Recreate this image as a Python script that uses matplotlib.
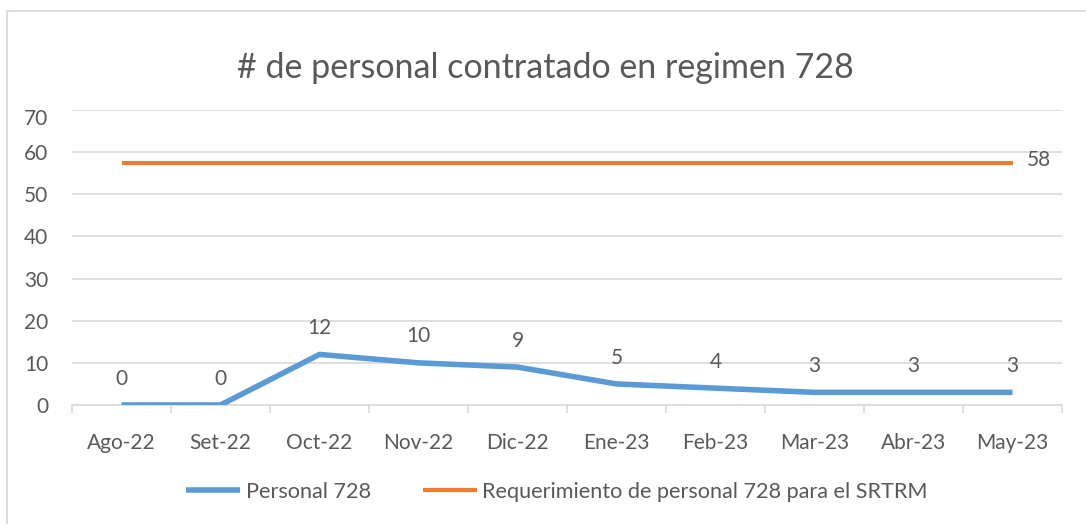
import matplotlib
matplotlib.use("Agg")
import matplotlib.pyplot as plt
from matplotlib.lines import Line2D
from matplotlib.ticker import FixedLocator
from matplotlib.transforms import ScaledTranslation

months = ["Ago-22", "Set-22", "Oct-22", "Nov-22", "Dic-22", "Ene-23", "Feb-23", "Mar-23", "Abr-23", "May-23"]
personal_728 = [0, 0, 12, 10, 9, 5, 4, 3, 3, 3]
requerimiento = [57.5, 57.5, 57.5, 57.5, 57.5, 57.5, 57.5, 57.5, 57.5, 57.5]
y_ticks = [0, 10, 20, 30, 40, 50, 60, 70]
title = "# de personal contratado en regimen 728"
series_names = ["Personal 728", "Requerimiento de personal 728 para el SRTRM"]

plt.rcParams['font.family'] = ['Lato', 'DejaVu Sans']
TXT = "#595959"
BLUE = "#5B9BD5"
ORANGE = "#ED7D31"
GRID = "#D9D9D9"
FS = 15

W, H = 1086, 524
fig = plt.figure(figsize=(W / 100, H / 100), dpi=100)
ax = fig.add_axes([72 / W, 1 - 405 / H, (1062 - 72) / W, (405 - 110) / H])

x = list(range(len(months)))
l1, = ax.plot(x, personal_728, color=BLUE, lw=4, solid_capstyle='butt', solid_joinstyle='round', zorder=3)
l2, = ax.plot(x, requerimiento, color=ORANGE, lw=3, solid_capstyle='butt', zorder=3)

for xi, v in zip(x, personal_728):
    ax.annotate(f"{v:g}", (xi, v), xytext=(0, 19), textcoords="offset points",
                ha="center", va="center", fontsize=FS, color=TXT)
ax.annotate(f"{requerimiento[-1]:.0f}", (x[-1], requerimiento[-1]), xytext=(10, 2), textcoords="offset points",
            ha="left", va="center", fontsize=FS, color=TXT)

ax.set_xlim(-0.5, len(months) - 0.5)
ax.set_ylim(0, 70)
ax.set_yticks(y_ticks)
ax.set_xticks(x)
ax.set_xticklabels(months)
ax.xaxis.set_minor_locator(FixedLocator([i - 0.5 for i in range(len(months) + 1)]))
ax.tick_params(axis='x', which='major', length=0, pad=20, labelsize=FS, labelcolor=TXT)
ax.tick_params(axis='x', which='minor', length=6, color=GRID, width=1.2)
ax.tick_params(axis='y', length=0, pad=17, labelsize=FS, labelcolor=TXT)
ax.grid(axis='y', color=GRID, lw=1.2)
ax.set_axisbelow(True)
for s in ['left', 'right', 'top']:
    ax.spines[s].set_visible(False)
ax.spines['bottom'].set_color(GRID)
ax.spines['bottom'].set_linewidth(1.2)

# top tick label sits slightly below its gridline in the reference
top_lbl = ax.yaxis.get_major_ticks()[-1].label1
top_lbl.set_transform(top_lbl.get_transform() + ScaledTranslation(0, -7 / 100, fig.dpi_scale_trans))

fig.text(545 / W, 1 - 68 / H, title, ha='center', va='center', fontsize=24.5, color=TXT)

fig.legend([l1, l2], series_names, loc='center', bbox_to_anchor=(557 / W, 1 - 492 / H),
           ncol=2, frameon=False, fontsize=15.6, labelcolor=TXT, handlelength=2.5,
           handletextpad=0.25, columnspacing=2.4)

fig.add_artist(Line2D([6.5 / W, 6.5 / W, 1], [0, 1 - 11 / H, 1 - 11 / H], transform=fig.transFigure,
                      color="#DDDDDD", lw=1.5))

fig.savefig("out.png", dpi=100, facecolor="white")
